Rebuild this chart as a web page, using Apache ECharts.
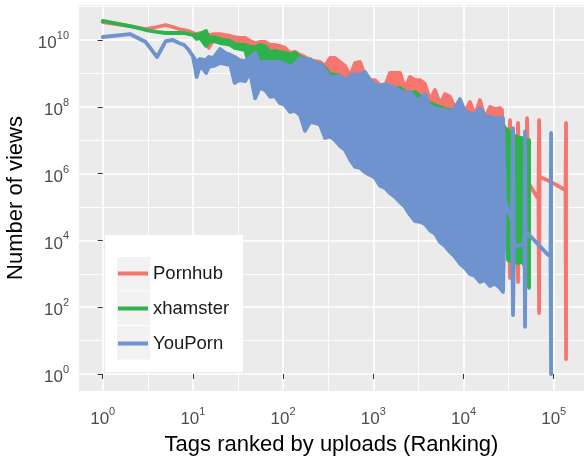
<!DOCTYPE html>
<html>
<head>
<meta charset="utf-8">
<script src="https://cdn.jsdelivr.net/npm/echarts@6/dist/echarts.min.js"></script>
<style>
html, body, #main { margin: 0; padding: 0; width: 584px; height: 462px; overflow: hidden; background: #fff; }
</style>
</head>
<body>
<div id="main"></div>
<script>
// ranks 1..10 one by one, then one sample every few pixels of the log axis
const headRank = [1, 2, 3, 4, 5, 6, 7, 8, 9, 10];
const bodyRank = [11, 12, 14, 15, 17, 20, 23, 26, 29, 33, 38, 43, 49, 55, 63, 72, 81, 92, 105, 119,
  136, 154, 175, 199, 226, 257, 292, 331, 377, 428, 486, 552, 627, 713, 810, 920, 1045, 1187, 1349, 1532,
  1740, 1978, 2246, 2552, 2899, 3294, 3742, 4252, 4830, 5487, 6234, 7082, 8046, 9140, 10380, 11800, 13400, 15230, 17300, 19660,
  22330, 25370];

// Pornhub
const phHead = [3.46e10, 2.62e10, 2.13e10, 2.45e10, 2.81e10, 2.45e10, 2.13e10, 1.99e10, 1.86e10, 1.62e10];
const phHigh = [1.51e10, 1.62e10, 1.32e10, 1.41e10, 1.51e10, 1.51e10, 1.41e10, 1.32e10, 1.23e10, 1.15e10,
  1.15e10, 9.3e9, 8.1e9, 8.7e9, 8.7e9, 7.1e9, 7.1e9, 6.6e9, 5.8e9,
  4.1e9, 4.4e9, 3.6e9, 3.1e9, 2.5e9, 2.35e9, 2.2e9, 1.67e9, 2.9e9, 2.9e9,
  2.2e9, 1.67e9, 8.4e8, 2.05e9, 2.2e9, 8.4e8, 6.3e8, 6.3e8, 4.5e8, 4.2e8,
  1.03e9, 1.03e9, 1.03e9, 3.7e8, 7.8e8, 6.3e8, 6.3e8, 4.8e8, 1.6e8, 3.2e8,
  1.2e8, 2.4e8, 2.0e8, 9.2e7, 1.6e8, 7.0e7, 1.4e8, 5.7e7, 1.6e8, 4.6e7,
  9.9e7, 8.6e7, 9.2e7];
const phLow = [1.23e10, 1.23e10, 1.0e10, 5.8e9, 1.07e10, 1.07e10, 1.0e10, 9.3e9, 8.7e9, 8.1e9, 7.1e9,
  1.45e9, 2.4e8, 4.8e8, 4.2e8, 2.6e8, 2.8e8, 1.7e8, 1.5e8, 9.2e7, 9.9e7,
  7.5e7, 2.5e7, 4.6e7, 4.3e7, 3.8e7, 1.5e7, 1.8e7, 1.3e7, 8.8e6, 6.7e6,
  3.4e6, 2.1e6, 1.9e6, 1.5e6, 1.2e6, 9.7e5, 5.6e5, 4.9e5, 3.5e5, 2.6e5,
  1.9e5, 1.3e5, 7.6e4, 5.0e4, 4.7e4, 4.1e4, 2.7e4, 2.0e4, 1.2e4, 9.0e3,
  5.9e3, 4.2e3, 2.6e3, 2.0e3, 1.3e3, 1.1e3, 750, 860, 570, 650, 500];
const phTailRank = [26720, 27770, 31550, 32780, 34060, 38690, 40220, 41770, 48680, 50660, 52550,
  65460, 67800, 68860, 69700, 70660, 84470, 98420, 127100, 135200, 137100];
const phTailHigh = [8.0e7, 3.2e5, 2.3e5, 4.0e7, 2.3e5, 1.6e5, 3.3e7, 1.6e5, 3.2e5, 4.6e7, 5.2e5,
  2.0e5, 2.1e5, 4.0e7, 7.4e5, 7.9e5, 6.4e5, 5.2e5, 3.5e5, 3.2e5, 3.3e7];
const phTailLow = [1.8e3, 3.2e5, 2.3e5, 750, 2.3e5, 1.6e5, 570, 1.6e5, 3.2e5, 2.3e3, 5.2e5,
  2.0e5, 2.1e5, 67, 7.4e5, 7.9e5, 6.4e5, 5.2e5, 3.5e5, 3.2e5, 2.8];

// xhamster
const xhHead = [3.71e10, 2.62e10, 1.99e10, 1.74e10, 1.62e10, 1.62e10, 1.62e10, 1.62e10, 1.51e10, 1.41e10];
const xhHigh = [1.41e10, 1.51e10, 1.86e10, 1.15e10, 1.23e10, 1.07e10, 1.0e10, 9.3e9, 7.6e9, 7.1e9,
  7.1e9, 6.2e9, 6.2e9, 7.1e9, 6.6e9, 4.4e9, 4.7e9, 4.4e9, 4.1e9, 3.8e9,
  4.1e9, 3.1e9, 2.7e9, 2.2e9, 2.05e9, 1.9e9, 1.45e9, 9.6e8, 9.0e8, 8.4e8,
  5.5e8, 7.3e8, 6.3e8, 6.8e8, 7.3e8, 5.5e8, 3.7e8, 3.2e8, 3.4e8, 3.7e8,
  3.4e8, 3.7e8, 2.8e8, 2.4e8, 2.8e8, 2.1e8, 1.6e8, 1.3e8, 1.13e8, 9.9e7,
  8.6e7, 8.0e7, 7.0e7, 6.1e7, 5.3e7, 4.6e7, 4.0e7, 3.5e7, 3.3e7, 3.1e7,
  3.1e7, 2.9e7];
const xhLow = [1.07e10, 1.15e10, 6.6e9, 8.7e9, 9.3e9, 8.1e9, 7.6e9, 7.1e9, 5.8e9, 5.4e9, 5.0e9,
  1.45e9, 2.4e8, 4.8e8, 4.2e8, 2.6e8, 2.8e8, 1.7e8, 1.5e8, 9.2e7, 9.9e7,
  7.5e7, 2.5e7, 4.6e7, 4.3e7, 3.8e7, 1.5e7, 1.8e7, 1.3e7, 8.8e6, 6.7e6,
  3.4e6, 2.1e6, 1.9e6, 1.5e6, 1.2e6, 9.7e5, 5.6e5, 4.9e5, 3.5e5, 2.6e5,
  1.9e5, 1.3e5, 7.6e4, 5.0e4, 4.7e4, 4.1e4, 2.7e4, 2.0e4, 1.2e4, 9.0e3,
  5.9e3, 4.2e3, 2.6e3, 2.0e3, 1.3e3, 1.1e3, 750, 860, 570, 650, 500];
const xhTailRank = [26720, 28840, 31140, 35400, 40220, 44560, 49360, 53330];
const xhTailHigh = [3.5e7, 2.3e7, 2.0e7, 1.4e7, 1.25e7, 1.16e7, 1.0e7, 1.0e7];
const xhTailLow = [1.3e6, 1.6e5, 2.6e3, 2.3e3, 2.1e3, 2.3e3, 1.5e3, 380];

// YouPorn
const ypHead = [1.23e10, 1.51e10, 8.7e9, 3.1e9, 9.3e9, 1.0e10, 8.1e9, 7.1e9, 5.0e9, 3.3e9];
const ypHigh = [2.2e9, 2.7e9, 2.5e9, 3.1e9, 2.9e9, 5.4e9, 4.1e9, 3.6e9, 3.1e9, 2.5e9,
  2.35e9, 3.1e9, 4.1e9, 2.05e9, 2.2e9, 2.2e9, 2.2e9, 2.2e9, 1.9e9, 1.56e9,
  1.9e9, 2.9e9, 2.5e9, 2.7e9, 2.05e9, 1.9e9, 1.26e9, 7.8e8, 7.8e8, 8.4e8,
  6.3e8, 8.4e8, 9.6e8, 9.0e8, 1.1e9, 6.3e8, 4.8e8, 4.2e8, 4.8e8, 4.2e8,
  3.7e8, 3.0e8, 2.6e8, 2.8e8, 1.8e8, 1.6e8, 2.4e8, 1.06e8, 9.2e7, 8.6e7,
  8.0e7, 7.0e7, 9.2e7, 1.7e8, 7.0e7, 6.5e7, 5.7e7, 9.2e7, 5.3e7, 5.0e7,
  4.6e7, 4.6e7];
const ypLow = [7.8e8, 1.78e9, 1.03e9, 1.56e9, 1.67e9, 2.05e9, 1.9e9, 1.78e9, 5.2e8, 6.3e8,
  5.9e8, 1.1e9, 1.8e8, 3.7e8, 3.2e8, 2.0e8, 2.1e8, 1.3e8, 1.13e8, 7.0e7,
  7.5e7, 5.7e7, 1.9e7, 3.5e7, 3.3e7, 2.9e7, 1.16e7, 1.3e7, 1.0e7, 6.7e6,
  5.1e6, 2.6e6, 1.6e6, 1.5e6, 1.1e6, 9.1e5, 7.4e5, 4.3e5, 3.7e5, 2.6e5,
  2.0e5, 1.4e5, 1.0e5, 5.8e4, 3.8e4, 3.6e4, 3.1e4, 2.0e4, 1.6e4, 9.0e3,
  6.8e3, 4.5e3, 3.2e3, 2.0e3, 1.5e3, 990, 860, 570, 650, 430,
  500, 380];
const ypTailRank = [27410, 28840, 31940, 34500, 35400, 36320, 44560, 47460, 48110, 48750, 50660, 86680, 92230, 93540];
const ypTailHigh = [4.6e7, 1.6e5, 6.6e4, 4.1e4, 2.3e7, 6.8e3, 7.3e3, 1.03e4, 1.8e7, 1.6e4, 1.7e4, 3.7e3, 3.4e3, 1.65e7];
const ypTailLow = [285, 1.6e5, 6.6e4, 4.1e4, 58, 6.8e3, 7.3e3, 1.03e4, 26, 1.6e4, 1.7e4, 3.7e3, 3.4e3, 1];

const xTicks = [0, 1, 2, 3, 4, 5];          // 10^0 .. 10^5
const xMinorTicks = [0.5, 1.5, 2.5, 3.5, 4.5];
const yTicks = [0, 2, 4, 6, 8, 10];         // 10^0 .. 10^10
const yMinorTicks = [1, 3, 5, 7, 9, 11];

const sites = [
  { name: 'Pornhub', color: '#F5766E', rank: headRank.concat(bodyRank, phTailRank),
    high: phHead.concat(phHigh, phTailHigh), low: phHead.concat(phLow, phTailLow) },
  { name: 'xhamster', color: '#2EB34C', rank: headRank.concat(bodyRank, xhTailRank),
    high: xhHead.concat(xhHigh, xhTailHigh), low: xhHead.concat(xhLow, xhTailLow) },
  { name: 'YouPorn', color: '#6F93CE', rank: headRank.concat(bodyRank, ypTailRank),
    high: ypHead.concat(ypHigh, ypTailHigh), low: ypHead.concat(ypLow, ypTailLow) }
];

const font = 'Liberation Sans, Arial, sans-serif';
const powLabel = {
  formatter: v => '{b|10}{s|' + v + '}',
  rich: {
    b: { fontSize: 17, lineHeight: 26, color: '#4D4D4D', fontFamily: font },
    s: { fontSize: 11, lineHeight: 12, verticalAlign: 'top', color: '#4D4D4D', fontFamily: font }
  }
};

// the fast oscillating curves are drawn as the band between their upper and lower envelope
function bandSeries(site) {
  const pts = site.rank.map((r, i) => [Math.log10(r), Math.log10(site.high[i]), Math.log10(site.low[i])]);
  return {
    name: site.name,
    type: 'custom',
    itemStyle: { color: site.color },
    encode: { x: 0, y: [1, 2] },
    data: pts,
    renderItem: function (params, api) {
      if (params.dataIndex !== 0) return null;
      const top = pts.map(p => api.coord([p[0], p[1]]));
      const bottom = pts.map(p => api.coord([p[0], p[2]])).reverse();
      return {
        type: 'polygon',
        shape: { points: top.concat(bottom) },
        style: { fill: site.color, stroke: site.color, lineWidth: 3.8, lineJoin: 'round' }
      };
    }
  };
}

function minorAxis(min, max, values, pos) {
  return {
    type: 'value', min: min, max: max, position: pos,
    axisLine: { show: false },
    axisTick: { show: false, customValues: values },
    axisLabel: { show: false, customValues: values },
    splitLine: { show: true, lineStyle: { color: '#FFFFFF', width: 0.9 } }
  };
}

const xMin = -0.263, xMax = 5.336;
const yMin = -0.509, yMax = 11.048;

const myChart = echarts.init(document.getElementById('main'));
const option = {
  animation: false,
  textStyle: { fontFamily: font },
  color: sites.map(s => s.color),
  grid: { left: 79, right: 0, top: 5, bottom: 71, show: true, backgroundColor: '#EBEBEB', borderWidth: 0, outerBoundsMode: 'none' },
  xAxis: [{
    type: 'value', min: xMin, max: xMax,
    name: 'Tags ranked by uploads (Ranking)', nameLocation: 'middle', nameGap: 43,
    nameTextStyle: { fontSize: 22, color: '#000', fontFamily: font },
    axisLine: { show: false },
    axisTick: { show: true, length: 5, customValues: xTicks, lineStyle: { color: '#333', width: 1 } },
    axisLabel: Object.assign({ customValues: xTicks, margin: 15 }, powLabel),
    splitLine: { show: true, lineStyle: { color: '#FFFFFF', width: 1.7 } }
  }, minorAxis(xMin, xMax, xMinorTicks, 'top')],
  yAxis: [{
    type: 'value', min: yMin, max: yMax,
    name: 'Number of views', nameLocation: 'middle', nameGap: 49,
    nameTextStyle: { fontSize: 22, color: '#000', fontFamily: font },
    axisLine: { show: false },
    axisTick: { show: true, length: 5, customValues: yTicks, lineStyle: { color: '#333', width: 1 } },
    axisLabel: Object.assign({ customValues: yTicks, margin: 10, padding: [7, 0, 0, 0] }, powLabel),
    splitLine: { show: true, lineStyle: { color: '#FFFFFF', width: 1.7 } }
  }, minorAxis(yMin, yMax, yMinorTicks, 'right')],
  legend: {
    orient: 'vertical', left: 105, top: 235, z: 10,
    padding: [28.5, 14, 18.5, 13],
    itemWidth: 30, itemHeight: 4, itemGap: 15,
    icon: 'rect', selectedMode: false,
    textStyle: { fontSize: 18.5, lineHeight: 20, color: '#1A1A1A', fontFamily: font },
    data: sites.map(s => s.name)
  },
  graphic: [
    { type: 'rect', z: 5, shape: { x: 105, y: 235, width: 138, height: 137 }, style: { fill: '#FFFFFF' } },
    { type: 'rect', z: 5, shape: { x: 117, y: 257, width: 33, height: 33.5 }, style: { fill: '#F2F2F2' } },
    { type: 'rect', z: 5, shape: { x: 117, y: 291.5, width: 33, height: 33.5 }, style: { fill: '#F2F2F2' } },
    { type: 'rect', z: 5, shape: { x: 117, y: 326, width: 33, height: 33.5 }, style: { fill: '#F2F2F2' } }
  ],
  series: sites.map(bandSeries)
};
myChart.setOption(option);
</script>
</body>
</html>
